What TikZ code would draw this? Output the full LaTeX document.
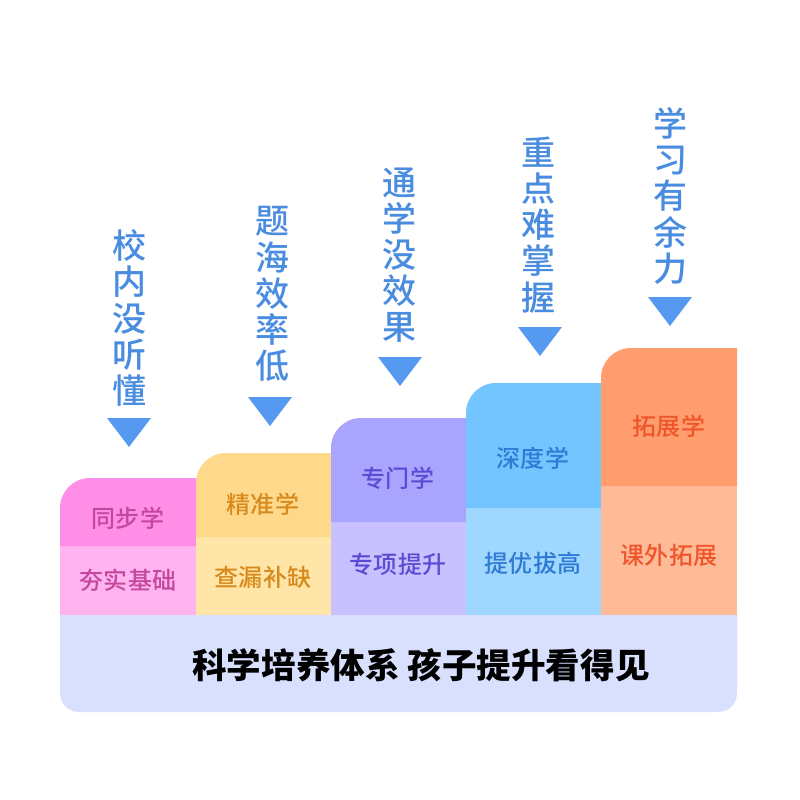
\documentclass[tikz,border=0pt]{standalone}
\usepackage{fontspec}
\usepackage{tikz}
\newfontfamily\cjk{Noto Sans CJK SC}
\newfontfamily\cjkmid{Noto Sans CJK SC Medium}

\definecolor{pinkTop}{HTML}{FF8FE6}
\definecolor{pinkLow}{HTML}{FFB4EF}
\definecolor{pinkText}{HTML}{C3479F}
\definecolor{goldTop}{HTML}{FFD98B}
\definecolor{goldLow}{HTML}{FFE5A7}
\definecolor{goldText}{HTML}{D78A1D}
\definecolor{violetTop}{HTML}{A9A5FF}
\definecolor{violetLow}{HTML}{C8C0FF}
\definecolor{violetText}{HTML}{5A4BD2}
\definecolor{skyTop}{HTML}{73C5FF}
\definecolor{skyLow}{HTML}{9FD7FF}
\definecolor{skyText}{HTML}{2E7AD4}
\definecolor{peachTop}{HTML}{FF9D6E}
\definecolor{peachLow}{HTML}{FFBB98}
\definecolor{peachText}{HTML}{F0552A}
\definecolor{baseFill}{HTML}{D8E0FE}
\definecolor{askText}{HTML}{4A8CE0}
\definecolor{tipFill}{HTML}{5599F0}

\tikzset{
  steplabel/.style={font=\cjkmid\fontsize{20.5}{24}\selectfont, inner sep=0pt},
  asklabel/.style={font=\cjkmid\fontsize{29}{30.8}\selectfont, text=askText, align=center, inner sep=0pt},
  tip/.style={fill=tipFill}
}

\begin{document}
\begin{tikzpicture}[x=0.03cm,y=-0.03cm]
    % Fix the canvas
    \useasboundingbox (0,0) rectangle (800,800);
    \fill[white] (0,0) rectangle (800,800);

    % Draw the base strip
    \fill[baseFill, rounded corners=16] (60,590) rectangle (737,712);
    \node[font=\cjk\bfseries\fontsize{29.5}{32}\selectfont, inner sep=0pt] (slogan) at (421,665) {科学培养体系 孩子提升看得见};

    % Draw the steps, lower part first
    \fill[pinkLow] (60,546) rectangle (196,615);
    \fill[pinkTop] (60,546) -- (60,508) arc[start angle=180, end angle=270, radius=30] -- (196,478) -- (196,546) -- cycle;
    \fill[goldLow] (196,537) rectangle (331,615);
    \fill[goldTop] (196,537) -- (196,483) arc[start angle=180, end angle=270, radius=30] -- (331,453) -- (331,537) -- cycle;
    \fill[violetLow] (331,522) rectangle (466,615);
    \fill[violetTop] (331,522) -- (331,448) arc[start angle=180, end angle=270, radius=30] -- (466,418) -- (466,522) -- cycle;
    \fill[skyLow] (466,508) rectangle (601,615);
    \fill[skyTop] (466,508) -- (466,413) arc[start angle=180, end angle=270, radius=30] -- (601,383) -- (601,508) -- cycle;
    \fill[peachLow] (601,486) rectangle (737,615);
    \fill[peachTop] (601,486) -- (601,378) arc[start angle=180, end angle=270, radius=30] -- (737,348) -- (737,486) -- cycle;

    % Add labels inside the steps
    \node[steplabel, text=pinkText] (learn1) at (128,518) {同步学};
    \node[steplabel, text=pinkText] (gain1) at (128,580) {夯实基础};
    \node[steplabel, text=goldText] (learn2) at (263,504) {精准学};
    \node[steplabel, text=goldText] (gain2) at (263,577) {查漏补缺};
    \node[steplabel, text=violetText] (learn3) at (398,478) {专门学};
    \node[steplabel, text=violetText] (gain3) at (398,564) {专项提升};
    \node[steplabel, text=skyText] (learn4) at (533,458) {深度学};
    \node[steplabel, text=skyText] (gain4) at (533,563) {提优拔高};
    \node[steplabel, text=peachText] (learn5) at (669,426) {拓展学};
    \node[steplabel, text=peachText] (gain5) at (669,555) {课外拓展};

    % Add the problems above each step
    \node[asklabel] (ask1) at (129,318) {校\\内\\没\\听\\懂};
    \node[asklabel] (ask2) at (272,294) {题\\海\\效\\率\\低};
    \node[asklabel] (ask3) at (399,255) {通\\学\\没\\效\\果};
    \node[asklabel] (ask4) at (538,225) {重\\点\\难\\掌\\握};
    \node[asklabel] (ask5) at (670,196) {学\\习\\有\\余\\力};

    % Draw the pointers
    \coordinate (tip1) at (129,418);
    \coordinate (tip2) at (270,397);
    \coordinate (tip3) at (400,357);
    \coordinate (tip4) at (540,327);
    \coordinate (tip5) at (670,297);
    \fill[tip] (tip1) ++(-22,0) -- ++(44,0) -- ++(-22,29) -- cycle;
    \fill[tip] (tip2) ++(-22,0) -- ++(44,0) -- ++(-22,29) -- cycle;
    \fill[tip] (tip3) ++(-22,0) -- ++(44,0) -- ++(-22,29) -- cycle;
    \fill[tip] (tip4) ++(-22,0) -- ++(44,0) -- ++(-22,29) -- cycle;
    \fill[tip] (tip5) ++(-22,0) -- ++(44,0) -- ++(-22,29) -- cycle;
\end{tikzpicture}
\end{document}
